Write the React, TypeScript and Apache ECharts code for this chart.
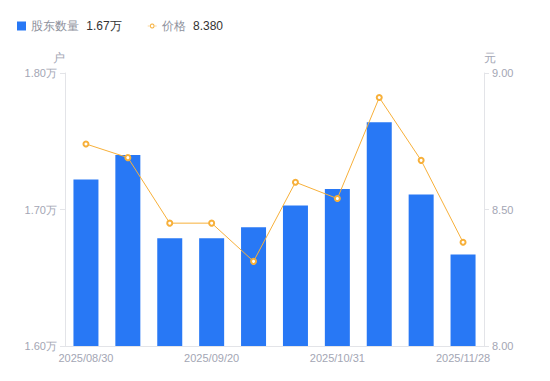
import React, { useEffect, useRef } from "react";
import * as echarts from "echarts";

const categories = [
  "2025/08/30",
  "2025/09/05",
  "2025/09/10",
  "2025/09/20",
  "2025/09/30",
  "2025/10/20",
  "2025/10/31",
  "2025/11/10",
  "2025/11/20",
  "2025/11/28",
];
const holders = [17220, 17400, 16790, 16790, 16870, 17030, 17150, 17640, 17110, 16670];
const prices = [8.74, 8.69, 8.45, 8.45, 8.31, 8.6, 8.54, 8.91, 8.68, 8.38];
const leftTicks = { min: 16000, max: 18000, interval: 1000 };
const rightTicks = { min: 8, max: 9, interval: 0.5 };

const gray = "#a3a6b4";
const orange = "#f7b03a";
const lineIcon =
  "path://M0,4.5h3.5v1h-3.5z M9.5,4.5h3.5v1h-3.5z M6.5,1.5a3.5,3.5 0 1,0 0.001,0z M6.5,3a2,2 0 1,1 -0.001,0z";

export default function App() {
  const ref = useRef<HTMLDivElement>(null);
  useEffect(() => {
    if (!ref.current) return;
    const chart = echarts.init(ref.current, undefined, { renderer: "svg" });
    const lastHolders = (holders[holders.length - 1] / 10000).toFixed(2) + "万";
    const lastPrice = prices[prices.length - 1].toFixed(3);
    chart.setOption({
      animation: false,
      legend: {
        left: 12,
        top: 15,
        itemWidth: 9,
        itemHeight: 9,
        itemGap: 26,
        textStyle: {
          fontSize: 12,
          rich: {
            a: { color: "#8e919c", fontSize: 12 },
            b: { color: "#333333", fontSize: 12, padding: [0, 0, 0, 4] },
          },
        },
        formatter: (name: string) =>
          name === "股东数量" ? `{a|${name}} {b|${lastHolders}}` : `{a|${name}} {b|${lastPrice}}`,
        data: [
          { name: "股东数量", icon: "rect" },
          { name: "价格", icon: lineIcon, itemStyle: { color: orange, borderWidth: 0 } },
        ],
      },
      grid: { left: 65, right: 66, top: 73, bottom: 35 },
      xAxis: {
        type: "category",
        data: categories,
        axisLine: { lineStyle: { color: "#e3e4e8" } },
        axisTick: { show: false },
        axisLabel: { color: gray, fontSize: 11, interval: 2, margin: 6 },
      },
      yAxis: [
        {
          type: "value",
          name: "户",
          nameTextStyle: { color: gray, fontSize: 12, padding: [0, 12, 0, 0] },
          nameGap: 9,
          ...leftTicks,
          axisLine: { show: true, lineStyle: { color: "#e3e4e8" } },
          axisTick: { show: true, length: 5, lineStyle: { color: "#e3e4e8" } },
          splitLine: { show: false },
          axisLabel: {
            color: gray,
            fontSize: 11,
            margin: 8,
            formatter: (v: number) => (v / 10000).toFixed(2) + "万",
          },
        },
        {
          type: "value",
          name: "元",
          nameTextStyle: { color: gray, fontSize: 12, padding: [0, 0, 0, 12] },
          nameGap: 9,
          ...rightTicks,
          axisLine: { show: true, lineStyle: { color: "#e3e4e8" } },
          axisTick: { show: true, length: 5, lineStyle: { color: "#e3e4e8" } },
          splitLine: { show: false },
          axisLabel: {
            color: gray,
            fontSize: 11,
            margin: 8,
            formatter: (v: number) => v.toFixed(2),
          },
        },
      ],
      series: [
        {
          name: "股东数量",
          type: "bar",
          data: holders,
          barWidth: 25,
          itemStyle: { color: "#2878f5" },
        },
        {
          name: "价格",
          type: "line",
          yAxisIndex: 1,
          data: prices,
          symbol: "emptyCircle",
          symbolSize: 5,
          lineStyle: { color: orange, width: 1 },
          itemStyle: { color: orange, borderWidth: 2 },
        },
      ],
    });
    return () => chart.dispose();
  }, []);
  return <div ref={ref} style={{ width: 550, height: 381, margin: -8 }} />;
}
